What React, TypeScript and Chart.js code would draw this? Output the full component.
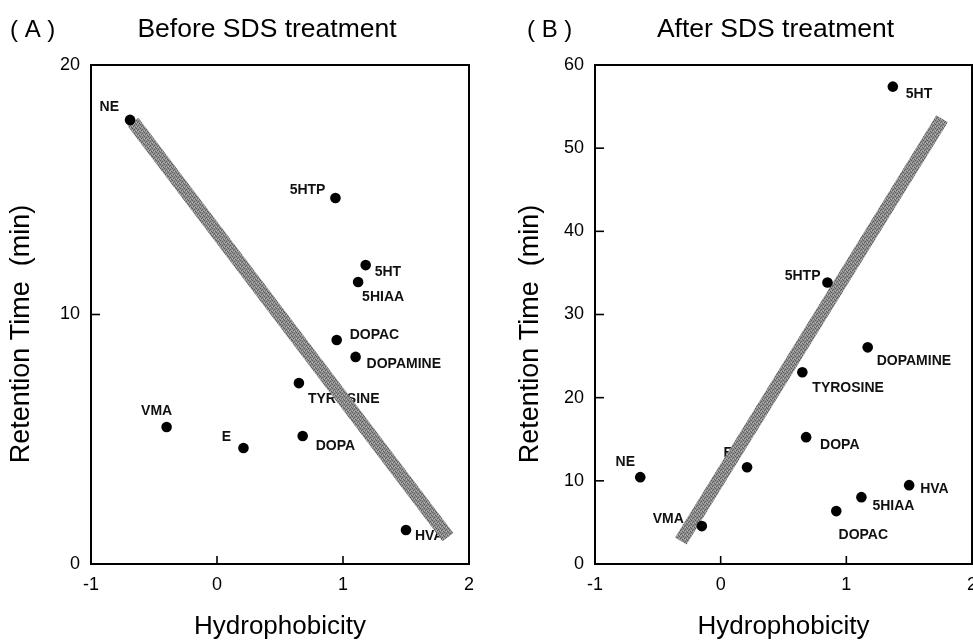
import React, { useEffect, useRef } from 'react';
import { Chart, registerables } from 'chart.js';

Chart.register(...registerables);

// ---------- Data ----------
const compoundsA = ['NE', '5HTP', '5HT', '5HIAA', 'DOPAC', 'DOPAMINE', 'TYROSINE', 'VMA', 'E', 'DOPA', 'HVA'];
const hydrophobicityA = [-0.69, 0.94, 1.18, 1.12, 0.95, 1.1, 0.65, -0.4, 0.21, 0.68, 1.5];
const retentionA = [17.8, 14.67, 11.98, 11.3, 8.98, 8.3, 7.25, 5.49, 4.65, 5.13, 1.36];
const fitHydroA = [-0.667, 1.833];
const fitRetentionA = [17.72, 1.08];

const compoundsB = ['5HT', '5HTP', 'DOPAMINE', 'TYROSINE', 'DOPA', 'NE', 'E', 'VMA', 'DOPAC', '5HIAA', 'HVA'];
const hydrophobicityB = [1.37, 0.85, 1.17, 0.65, 0.68, -0.64, 0.21, -0.15, 0.92, 1.12, 1.5];
const retentionB = [57.4, 33.85, 26.05, 23.05, 15.25, 10.44, 11.64, 4.56, 6.36, 8.04, 9.48];
const fitHydroB = [-0.317, 1.762];
const fitRetentionB = [2.76, 53.54];

const xTicks = [-1, 0, 1, 2];
const yTicksA = [0, 10, 20];
const yTicksB = [0, 10, 20, 30, 40, 50, 60];

// ---------- Label placement (styling, px relative to each dot) ----------
type Place = [number, number, CanvasTextAlign];
const placeA: Place[] = [
  [-11, -13, 'right'],
  [-10, -8, 'right'],
  [9, 7, 'left'],
  [4, 15, 'left'],
  [13, -5, 'left'],
  [11, 7, 'left'],
  [9, 16, 'left'],
  [-10, -16, 'center'],
  [-17, -11, 'center'],
  [13, 10, 'left'],
  [9, 6, 'left'],
];
const placeB: Place[] = [
  [13, 8, 'left'],
  [-7, -6, 'right'],
  [9, 14, 'left'],
  [10, 16, 'left'],
  [14, 8, 'left'],
  [-15, -15, 'center'],
  [-19, -14, 'center'],
  [-18, -7, 'right'],
  [27, 24, 'center'],
  [11, 9, 'left'],
  [11, 4, 'left'],
];

const FONT = '"Liberation Sans", Arial, Helvetica, sans-serif';

function makeBandPattern(): CanvasPattern | string {
  const c = document.createElement('canvas');
  c.width = 4;
  c.height = 4;
  const g = c.getContext('2d');
  if (!g) return '#808080';
  g.fillStyle = '#909090';
  g.fillRect(0, 0, 4, 4);
  g.fillStyle = '#5c5c5c';
  g.fillRect(0, 0, 1, 1);
  g.fillRect(2, 1, 1, 1);
  g.fillRect(1, 2, 1, 1);
  g.fillRect(3, 3, 1, 1);
  g.fillStyle = '#b4b4b4';
  g.fillRect(2, 3, 1, 1);
  g.fillRect(0, 2, 1, 1);
  const ctx = document.createElement('canvas').getContext('2d');
  const p = ctx ? ctx.createPattern(c, 'repeat') : null;
  return p || '#808080';
}

interface PanelCfg {
  names: string[];
  xs: number[];
  ys: number[];
  fitX: number[];
  fitY: number[];
  yTicks: number[];
  place: Place[];
  panelLabel: string;
  panelLabelX: number;
  title: string;
  titleShift: number;
  yAxisWidth: number;
  padRight: number;
  yTitleX: number;
}

function makePlugin(cfg: PanelCfg) {
  return {
    id: 'panelDeco',
    beforeDatasetsDraw(chart: any) {
      const ctx = chart.ctx as CanvasRenderingContext2D;
      const meta = chart.getDatasetMeta(0);
      ctx.save();
      ctx.font = `bold 14px ${FONT}`;
      ctx.fillStyle = '#111';
      ctx.textBaseline = 'middle';
      meta.data.forEach((el: any, i: number) => {
        const [dx, dy, align] = cfg.place[i];
        ctx.textAlign = align;
        ctx.fillText(cfg.names[i], el.x + dx, el.y + dy);
      });
      ctx.restore();
    },
    afterDraw(chart: any) {
      const ctx = chart.ctx as CanvasRenderingContext2D;
      const a = chart.chartArea;
      const sx = chart.scales.x;
      const sy = chart.scales.y;
      ctx.save();
      ctx.strokeStyle = '#000';
      ctx.lineWidth = 2;
      ctx.strokeRect(a.left, a.top, a.right - a.left, a.bottom - a.top);
      ctx.lineWidth = 1.6;
      sx.ticks.forEach((t: any) => {
        const px = sx.getPixelForValue(t.value);
        ctx.beginPath();
        ctx.moveTo(px, a.bottom);
        ctx.lineTo(px, a.bottom - 8);
        ctx.stroke();
      });
      sy.ticks.forEach((t: any) => {
        const py = sy.getPixelForValue(t.value);
        ctx.beginPath();
        ctx.moveTo(a.left, py);
        ctx.lineTo(a.left + 9, py);
        ctx.stroke();
      });
      // titles
      ctx.fillStyle = '#000';
      ctx.textBaseline = 'alphabetic';
      ctx.textAlign = 'left';
      ctx.font = `24px ${FONT}`;
      ctx.fillText(cfg.panelLabel, cfg.panelLabelX, 37);
      ctx.font = `26.5px ${FONT}`;
      ctx.textAlign = 'center';
      ctx.fillText(cfg.title, (a.left + a.right) / 2 + cfg.titleShift, 37);
      // y-axis title
      ctx.font = `27px ${FONT}`;
      ctx.textBaseline = 'middle';
      ctx.translate(cfg.yTitleX, 334);
      ctx.rotate(-Math.PI / 2);
      ctx.fillText('Retention Time  (min)', 0, 0);
      ctx.restore();
    },
  };
}

function Panel({ cfg, left }: { cfg: PanelCfg; left: number }) {
  const ref = useRef<HTMLCanvasElement>(null);
  useEffect(() => {
    if (!ref.current) return;
    const band = makeBandPattern();
    const points = cfg.xs.map((x, i) => ({ x, y: cfg.ys[i] }));
    const fit = cfg.fitX.map((x, i) => ({ x, y: cfg.fitY[i] }));
    const chart = new Chart(ref.current, {
      type: 'scatter',
      data: {
        datasets: [
          {
            data: points,
            pointRadius: 5.3,
            pointBackgroundColor: '#000',
            pointBorderColor: '#000',
            pointBorderWidth: 0,
            order: 0,
          },
          {
            data: fit,
            showLine: true,
            borderColor: band as any,
            borderWidth: 13.5,
            borderCapStyle: 'butt',
            pointRadius: 0,
            order: 1,
          } as any,
        ],
      },
      options: {
        responsive: false,
        animation: false,
        devicePixelRatio: 1,
        layout: { autoPadding: false, padding: { left: 0, right: cfg.padRight, top: 65, bottom: 0 } },
        plugins: { legend: { display: false }, tooltip: { enabled: false }, title: { display: false } },
        scales: {
          x: {
            type: 'linear',
            min: xTicks[0],
            max: xTicks[xTicks.length - 1],
            ticks: { stepSize: xTicks[1] - xTicks[0], padding: 10, color: '#000', font: { size: 18, family: FONT } },
            grid: { display: false, drawTicks: false },
            border: { display: false },
            title: { display: true, text: 'Hydrophobicity', color: '#000', font: { size: 26, family: FONT }, padding: 0 },
            afterFit: (s: any) => {
              s.height = 78;
              s.paddingLeft = 0;
              s.paddingRight = 0;
            },
          },
          y: {
            type: 'linear',
            min: cfg.yTicks[0],
            max: cfg.yTicks[cfg.yTicks.length - 1],
            ticks: { stepSize: cfg.yTicks[1] - cfg.yTicks[0], padding: 11, color: '#000', font: { size: 18, family: FONT } },
            grid: { display: false, drawTicks: false },
            border: { display: false },
            afterFit: (s: any) => {
              s.width = cfg.yAxisWidth;
              s.paddingTop = 0;
              s.paddingBottom = 0;
            },
          },
        },
      },
      plugins: [makePlugin(cfg)],
    } as any);
    return () => chart.destroy();
  }, []);
  return (
    <canvas
      ref={ref}
      width={486}
      height={642}
      style={{ position: 'absolute', left, top: 0, width: 486, height: 642 }}
    />
  );
}

const cfgA: PanelCfg = {
  names: compoundsA,
  xs: hydrophobicityA,
  ys: retentionA,
  fitX: fitHydroA,
  fitY: fitRetentionA,
  yTicks: yTicksA,
  place: placeA,
  panelLabel: '( A )',
  panelLabelX: 10,
  title: 'Before SDS treatment',
  titleShift: -13,
  yAxisWidth: 91,
  padRight: 17,
  yTitleX: 22,
};

const cfgB: PanelCfg = {
  names: compoundsB,
  xs: hydrophobicityB,
  ys: retentionB,
  fitX: fitHydroB,
  fitY: fitRetentionB,
  yTicks: yTicksB,
  place: placeB,
  panelLabel: '( B )',
  panelLabelX: 40,
  title: 'After SDS treatment',
  titleShift: -8,
  yAxisWidth: 108,
  padRight: 1,
  yTitleX: 44,
};

export default function App() {
  return (
    <div style={{ position: 'fixed', left: 0, top: 0, width: 973, height: 642, background: '#fff', overflow: 'hidden' }}>
      <Panel cfg={cfgA} left={0} />
      <Panel cfg={cfgB} left={487} />
    </div>
  );
}
